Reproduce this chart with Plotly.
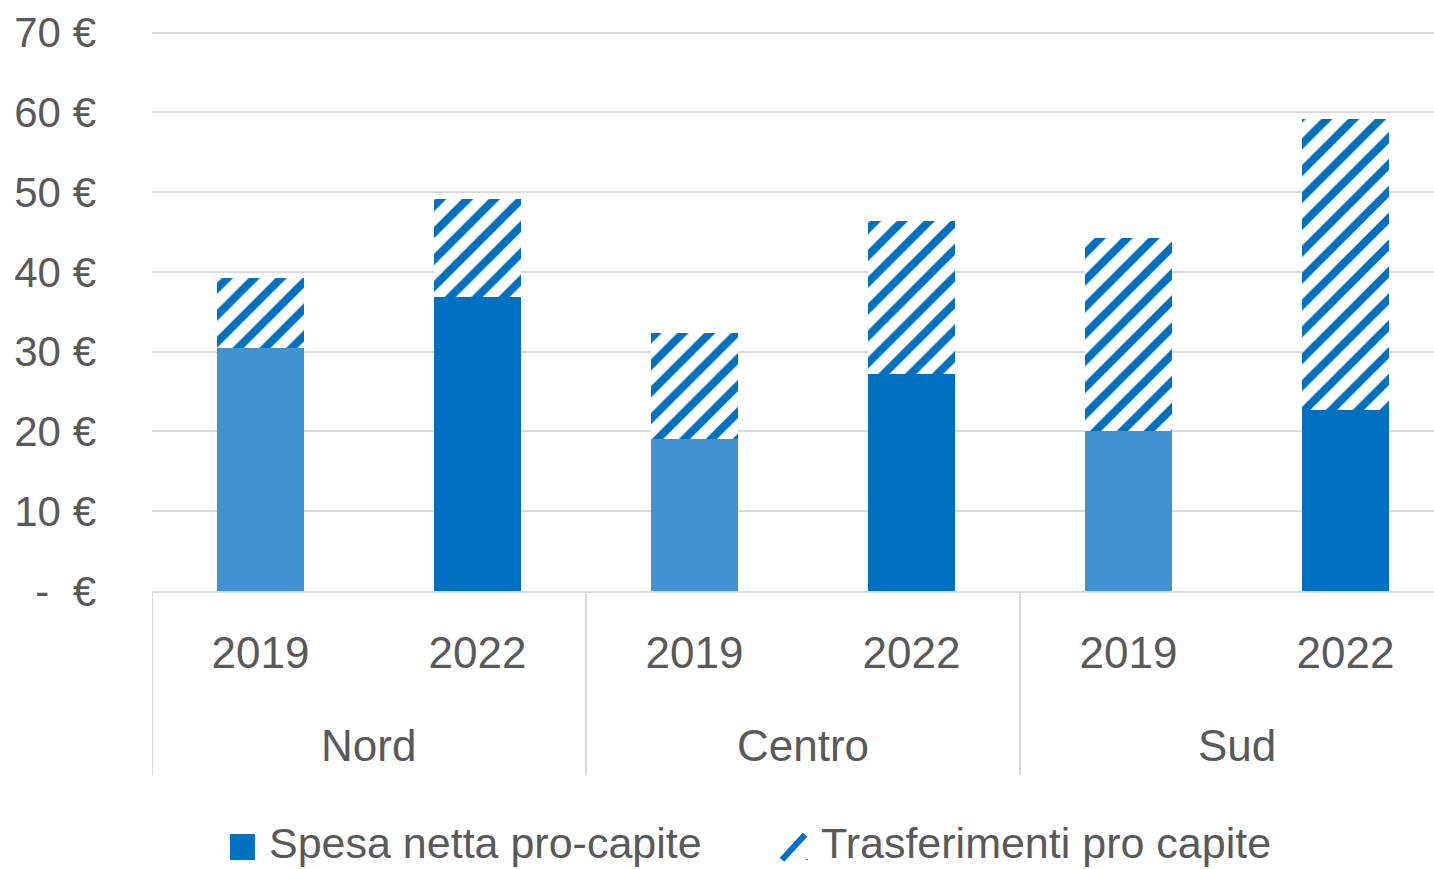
import plotly.graph_objects as go

regioni = ["Nord", "Centro", "Sud"]
anni = ["2019", "2022", "2019", "2022", "2019", "2022"]
spesa_netta = [30.4, 36.9, 19.0, 27.2, 20.1, 22.7]
trasferimenti = [8.8, 12.2, 13.4, 19.2, 24.1, 36.5]
serie = ["Spesa netta pro-capite", "Trasferimenti pro capite"]

col_2019 = "#4192d0"
col_2022 = "#0070c0"
grigio = "#595959"
griglia = "#d9d9d9"
FONT = "Liberation Sans"

x = list(range(len(anni)))
colori = [col_2019 if a == "2019" else col_2022 for a in anni]

fig = go.Figure()
fig.add_trace(go.Bar(
    x=x, y=spesa_netta, name=serie[0],
    marker=dict(color=colori, line=dict(width=0)),
))
fig.add_trace(go.Bar(
    x=x, y=trasferimenti, name=serie[1],
    marker=dict(color="white", line=dict(width=0),
                pattern=dict(shape="/", fgcolor=col_2022, bgcolor="white",
                             size=19, solidity=0.42, fillmode="replace")),
))

# separatori e etichette dei gruppi
y_bot = -0.329
for i in range(len(regioni) + 1):
    fig.add_shape(type="line", xref="x", yref="paper",
                  x0=-0.5 + 2 * i, x1=-0.5 + 2 * i, y0=0, y1=y_bot,
                  line=dict(color=griglia, width=2))
for i, r in enumerate(regioni):
    fig.add_annotation(x=2 * i + 0.5, y=-0.2755, xref="x", yref="paper",
                       text=r, showarrow=False, yanchor="middle",
                       font=dict(size=44, color=grigio, family=FONT))

# legenda disegnata a mano (simboli grandi come nell'originale)
ly = -0.4505
fig.add_shape(type="rect", xref="paper", yref="paper",
              x0=0.0608, x1=0.0803, y0=-0.4340, y1=-0.4805,
              fillcolor=col_2022, line=dict(width=0))
fig.add_annotation(x=0.0905, y=ly, xref="paper", yref="paper", text=serie[0],
                   showarrow=False, xanchor="left", yanchor="middle",
                   borderpad=0, font=dict(size=43, color=grigio, family=FONT))
fig.add_shape(type="line", xref="paper", yref="paper",
              x0=0.4914, x1=0.5094, y0=-0.4800, y1=-0.4350,
              line=dict(color=col_2022, width=6))
fig.add_shape(type="circle", xref="paper", yref="paper",
              x0=0.5102, x1=0.5118, y0=-0.4810, y1=-0.4780,
              fillcolor=col_2022, line=dict(width=0))
fig.add_annotation(x=0.5211, y=ly, xref="paper", yref="paper", text=serie[1],
                   showarrow=False, xanchor="left", yanchor="middle",
                   borderpad=0, font=dict(size=43, color=grigio, family=FONT))

fig.update_layout(
    barmode="stack",
    bargap=0.6,
    width=1434, height=869,
    margin=dict(l=152, r=0, t=31, b=278, autoexpand=False),
    plot_bgcolor="white", paper_bgcolor="white",
    font=dict(family=FONT, size=42, color=grigio),
    showlegend=False,
)
fig.update_xaxes(
    range=[-0.5, 5.408], tickvals=x, ticktext=anni,
    showgrid=False, zeroline=False, showline=True, linecolor=griglia,
    linewidth=2, ticks="", ticklabelstandoff=22, automargin=False,
    tickfont=dict(size=44, color=grigio, family=FONT),
)
fig.update_yaxes(
    range=[0, 70.2], tickvals=[0, 10, 20, 30, 40, 50, 60, 70],
    ticktext=["-\u00a0\u00a0€", "10 €", "20 €", "30 €", "40 €",
              "50 €", "60 €", "70 €"],
    showgrid=True, gridcolor=griglia, gridwidth=2, zeroline=False,
    ticks="", ticklabelstandoff=55, automargin=False,
    tickfont=dict(size=42, color=grigio, family=FONT),
)

# niente margine della pagina: il grafico parte dall'angolo in alto a sinistra
fig.write_html("out.html", config={"displayModeBar": False},
               post_script="document.body.style.margin='0';"
                           "document.body.style.overflow='hidden';")
